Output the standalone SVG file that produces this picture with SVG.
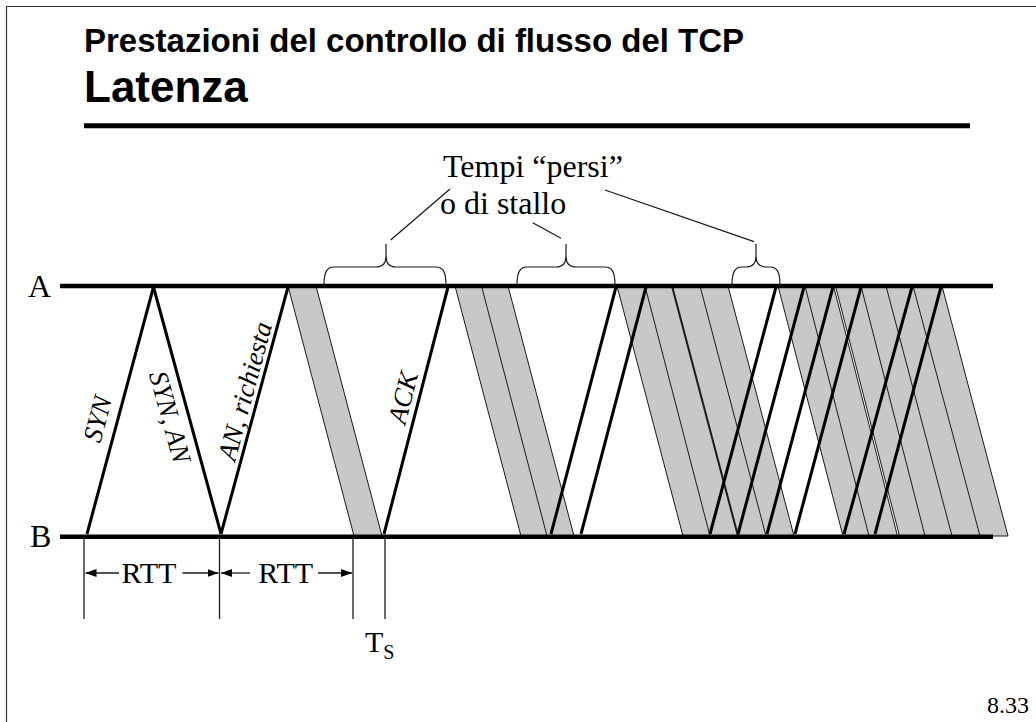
<svg xmlns="http://www.w3.org/2000/svg" width="1036" height="722" viewBox="0 0 1036 722">
<style>
.serif{font-family:"Liberation Serif","Times New Roman",serif;fill:#000}
.sans{font-family:"Liberation Sans",Arial,sans-serif;font-weight:bold;fill:#000}
.lbl{font-family:"Liberation Serif","Times New Roman",serif;font-style:italic;font-size:27px;text-anchor:middle;fill:#000}
.band{fill:#c8c8c8;stroke:#1a1a1a;stroke-width:1}
.div{stroke:#1a1a1a;stroke-width:1;fill:none}
.msg{stroke:#000;stroke-width:3;fill:none}
.axis{stroke:#000;stroke-width:4.5;fill:none}
.thin{stroke:#1a1a1a;stroke-width:1.3;fill:none}
.brace{stroke:#1a1a1a;stroke-width:1.2;fill:none}
</style>
<defs>
<marker id="ah" markerUnits="userSpaceOnUse" markerWidth="11" markerHeight="8" refX="11" refY="4" orient="auto">
<path d="M0,0 L11,4 L0,8 z" fill="#000"/>
</marker>
</defs>
<rect width="1036" height="722" fill="#fff"/>
<path d="M6.5 722 V6.5 H1036" fill="none" stroke="#333" stroke-width="1.2"/>

<g id="title">
<text class="sans" x="84" y="52" font-size="33">Prestazioni del controllo di flusso del TCP</text>
<text class="sans" x="84" y="102" font-size="44">Latenza</text>
<line x1="84" y1="125.8" x2="970" y2="125.8" stroke="#000" stroke-width="5"/>
</g>

<g id="bands">
<polygon class="band" points="288,286 316,286 382,536 354,536"/>
<polygon class="band" points="455,286 508,286 574,536 521,536"/>
<line class="div" x1="481.5" y1="286" x2="547" y2="536"/>
<polygon class="band" points="617,286 728,286 794,536 683,536"/>
<line class="div" x1="645" y1="286" x2="710" y2="536"/>
<line class="div" x1="672" y1="286" x2="738" y2="536" style="stroke-width:2"/>
<line class="div" x1="700" y1="286" x2="766" y2="536"/>
<polygon class="band" points="778,286 833.5,286 897.5,536 843,536"/>
<line class="div" x1="805" y1="286" x2="869" y2="536"/>
<polygon class="band" points="835.5,286 942,286 1008,536 899.5,536"/>
<line class="div" x1="861" y1="286" x2="925" y2="536"/>
<line class="div" x1="886" y1="286" x2="952" y2="536"/>
<line class="div" x1="913" y1="286" x2="980" y2="536"/>
</g>

<g id="connectors">
<line class="msg" x1="87" y1="534" x2="153.5" y2="287"/>
<line class="msg" x1="153.5" y1="287" x2="221" y2="534"/>
<line class="msg" x1="221" y1="534" x2="288" y2="287"/>
<line class="msg" x1="384" y1="534" x2="448" y2="287"/>
<line class="msg" x1="551" y1="534" x2="616" y2="287"/>
<line class="msg" x1="581" y1="534" x2="646" y2="287"/>
<line class="msg" x1="710" y1="534" x2="776" y2="287"/>
<line class="msg" x1="738" y1="534" x2="804" y2="287"/>
<line class="msg" x1="767" y1="534" x2="833" y2="287"/>
<line class="msg" x1="795" y1="534" x2="861" y2="287"/>
<line class="msg" x1="844" y1="534" x2="912" y2="287"/>
<line class="msg" x1="875" y1="534" x2="941" y2="287"/>
<line class="thin" x1="450" y1="189" x2="390.7" y2="240"/>
<line class="thin" x1="532.7" y1="222.7" x2="561" y2="238.3"/>
<line class="thin" x1="605" y1="190" x2="754" y2="241.7"/>
</g>

<g id="axisA">
<line class="axis" x1="60" y1="286" x2="993" y2="286"/>
<text class="serif" x="28" y="297" font-size="32">A</text>
</g>
<g id="axisB">
<line class="axis" x1="60" y1="536.8" x2="993" y2="536.8"/>
<text class="serif" x="30" y="546.5" font-size="32">B</text>
</g>

<g id="labels">
<text class="lbl" transform="translate(97.5,419) rotate(-74.9)" x="0" y="9">SYN</text>
<text class="lbl" transform="translate(170,417) rotate(74.6)" x="0" y="9">SYN, AN</text>
<text class="lbl" transform="translate(245,391) rotate(-74.8)" x="0" y="9">AN, richiesta</text>
<text class="lbl" transform="translate(403,397.5) rotate(-75.5)" x="0" y="9">ACK</text>
</g>

<g id="stall-note">
<text class="serif" x="443" y="177" font-size="32">Tempi “persi”</text>
<text class="serif" x="440" y="214" font-size="32">o di stallo</text>
<path class="brace" d="M324 285 C324 272 327 267 334 267 H376 C383 267 386 263 386 256 V244 M386 256 C386 263 389 267 396 267 H436 C443 267 446 272 446 285"/>
<path class="brace" d="M517 285 C517 272 520 267 527 267 H556 C563 267 566 263 566 256 V244 M566 256 C566 263 569 267 576 267 H605 C612 267 615 272 615 285"/>
<path class="brace" d="M732 285 C732 272 735 267 742 267 H746 C753 267 756 263 756 256 V244 M756 256 C756 263 759 267 766 267 H770 C777 267 780 272 780 285"/>
</g>

<g id="dimensions">
<line class="thin" x1="84" y1="538" x2="84" y2="619"/>
<line class="thin" x1="219.5" y1="538" x2="219.5" y2="619"/>
<line class="thin" x1="353" y1="538" x2="353" y2="619"/>
<line class="thin" x1="385" y1="538" x2="385" y2="619"/>
<line class="thin" x1="119" y1="573" x2="85.5" y2="573" marker-end="url(#ah)"/>
<line class="thin" x1="182.5" y1="573" x2="218.5" y2="573" marker-end="url(#ah)"/>
<line class="thin" x1="250" y1="573" x2="221" y2="573" marker-end="url(#ah)"/>
<line class="thin" x1="318" y1="573" x2="352" y2="573" marker-end="url(#ah)"/>
<text class="serif" x="149" y="583" font-size="30" text-anchor="middle">RTT</text>
<text class="serif" x="285.7" y="583" font-size="30" text-anchor="middle">RTT</text>
<text class="serif" x="365" y="651.5" font-size="30">T<tspan font-size="20" dy="7.5">S</tspan></text>
</g>

<text class="serif" x="987" y="713" font-size="24">8.33</text>
</svg>
